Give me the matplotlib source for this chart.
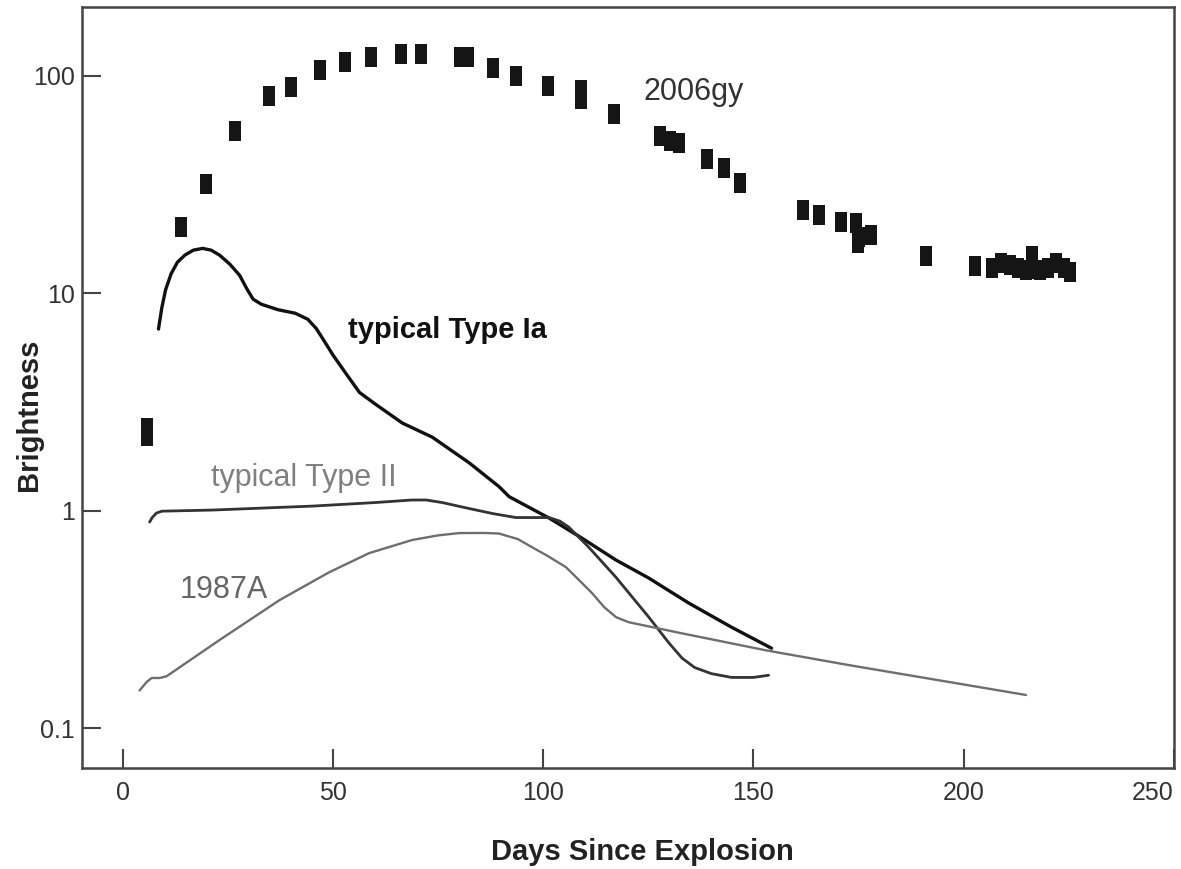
import numpy as np
import matplotlib
matplotlib.use('Agg')
import matplotlib.pyplot as plt
from matplotlib.ticker import FixedLocator, FixedFormatter, NullLocator

plt.rcParams['font.family'] = ['Liberation Sans', 'DejaVu Sans']

# SN 2006gy data points (days, brightness)
gy_days = [5.7, 5.7, 13.8, 19.9, 26.8, 34.9, 39.9, 46.8, 52.9, 59.1, 66.2, 71.0,
           80.3, 82.0, 88.1, 93.5, 101.1, 108.9, 108.9, 116.8, 127.7, 130.1, 132.4,
           138.9, 142.9, 146.9, 161.9, 165.7, 170.9, 174.5, 174.8, 175.2, 178.0,
           191.0, 202.7, 206.7, 208.9, 211.0, 212.9, 214.8, 216.2, 216.2, 218.1,
           220.0, 221.9, 223.8, 225.3]
gy_bright = [2.2, 2.4, 20.2, 31.8, 55.8, 80.5, 89.0, 107, 116, 122, 126, 126,
             122, 122, 109, 100, 89.5, 78, 86, 66.9, 53.2, 50.2, 49.2,
             41.5, 37.8, 32.2, 24.2, 22.9, 21.3, 21.0, 17.0, 18.2, 18.5,
             14.9, 13.4, 13.1, 13.8, 13.5, 13.1, 12.8, 13.0, 14.8, 12.8,
             13.1, 13.8, 13.1, 12.5]

# typical Type Ia light curve
ia_days = [8.5, 9.3, 10.2, 11.5, 13.0, 14.8, 16.8, 19.0, 21.0, 23.0, 25.5, 27.8,
           29.5, 31.0, 33.0, 37.0, 41.0, 44.0, 46.0, 48.0, 50.0, 53.0, 56.3, 60.0,
           66.5, 73.6, 82.4, 89.5, 91.9, 101.4, 109.2, 117.3, 125.1, 134.6, 144.8, 154.3]
ia_bright = [6.85, 8.6, 10.4, 12.3, 13.9, 15.0, 15.8, 16.1, 15.8, 15.0, 13.6, 12.1,
             10.5, 9.4, 8.9, 8.4, 8.1, 7.6, 6.9, 6.0, 5.2, 4.3, 3.5, 3.1,
             2.53, 2.18, 1.66, 1.29, 1.16, 0.925, 0.748, 0.593, 0.49, 0.376, 0.291, 0.233]

# typical Type II light curve
ii_days = [6.4, 7.0, 8.0, 9.3, 21.4, 45.1, 60.0, 68.8, 72.2, 76.0, 81.7, 88.0,
           93.5, 101.4, 104.0, 106.1, 110.8, 117.3, 125.1, 130.0, 133.0, 136.0,
           140.0, 144.8, 150.0, 153.6]
ii_bright = [0.887, 0.93, 0.975, 0.995, 1.007, 1.05, 1.09, 1.12, 1.12, 1.09, 1.03, 0.97,
             0.93, 0.93, 0.895, 0.84, 0.68, 0.494, 0.324, 0.245, 0.21, 0.19,
             0.178, 0.171, 0.171, 0.175]

# SN 1987A light curve
a87_days = [4.0, 5.7, 6.9, 8.8, 10.4, 23.0, 37.3, 49.1, 58.6, 68.8, 75.0, 80.0,
            86.0, 89.5, 94.0, 97.3, 101.0, 105.4, 108.5, 111.6, 114.5, 117.3, 120.3,
            132.9, 152.9, 172.6, 214.8]
a87_bright = [0.149, 0.163, 0.170, 0.170, 0.173, 0.254, 0.388, 0.521, 0.638, 0.733, 0.77, 0.789,
              0.79, 0.785, 0.74, 0.68, 0.62, 0.55, 0.48, 0.418, 0.36, 0.324, 0.307,
              0.273, 0.228, 0.195, 0.142]

x_ticks = [0, 50, 100, 150, 200, 250]
y_ticks = [0.1, 1, 10, 100]
y_tick_labels = ['0.1', '1', '10', '100']

fig = plt.figure(figsize=(11.81, 8.69), dpi=100)
ax = fig.add_axes([0.0694, 0.1162, 0.9246, 0.8758])

# rectangular marker (taller than wide)
rect = [(-0.3, -0.5), (0.3, -0.5), (0.3, 0.5), (-0.3, 0.5), (-0.3, -0.5)]
ax.plot(gy_days, gy_bright, linestyle='none', marker=rect, markersize=14.5,
        color='#151515', markeredgewidth=0)

ax.plot(ia_days, ia_bright, color='#111111', lw=2.4, solid_capstyle='round', solid_joinstyle='round')
ax.plot(ii_days, ii_bright, color='#333333', lw=2.0, solid_capstyle='round', solid_joinstyle='round')
ax.plot(a87_days, a87_bright, color='#6e6e6e', lw=1.7, solid_capstyle='round', solid_joinstyle='round')

ax.set_yscale('log')
ax.set_xlim(-9.7, 250)
ax.set_ylim(0.0655, 207.7)

ax.xaxis.set_major_locator(FixedLocator(x_ticks))
ax.yaxis.set_major_locator(FixedLocator(y_ticks))
ax.yaxis.set_major_formatter(FixedFormatter(y_tick_labels))
ax.yaxis.set_minor_locator(NullLocator())

ax.tick_params(direction='in', length=14, width=1.5, color='#444444',
               labelsize=18, labelcolor='#333333')
ax.tick_params(axis='x', pad=9)
ax.tick_params(axis='y', pad=5)
for lab in ax.get_xticklabels():
    if lab.get_text() == '250':
        lab.set_horizontalalignment('right')
        lab.set_x(250)

for s in ax.spines.values():
    s.set_color('#444444')
    s.set_linewidth(1.8)

ax.set_xlabel('Days Since Explosion', fontsize=21, fontweight='bold', color='#222222')
ax.xaxis.set_label_coords(0.513, -0.092)
ax.set_ylabel('Brightness', fontsize=21, fontweight='bold', color='#222222')
ax.yaxis.set_label_coords(-0.036, 0.464)

# curve labels
ax.text(123.9, 84.4, '2006gy', fontsize=22, color='#333333', ha='left', va='center')
ax.text(53.5, 6.78, 'typical Type Ia', fontsize=21, color='#111111', ha='left', va='center', fontweight='bold')
ax.text(21.1, 1.41, 'typical Type II', fontsize=22, color='#808080', ha='left', va='center')
ax.text(13.5, 0.431, '1987A', fontsize=22, color='#666666', ha='left', va='center')

plt.savefig('out.png', dpi=100)
